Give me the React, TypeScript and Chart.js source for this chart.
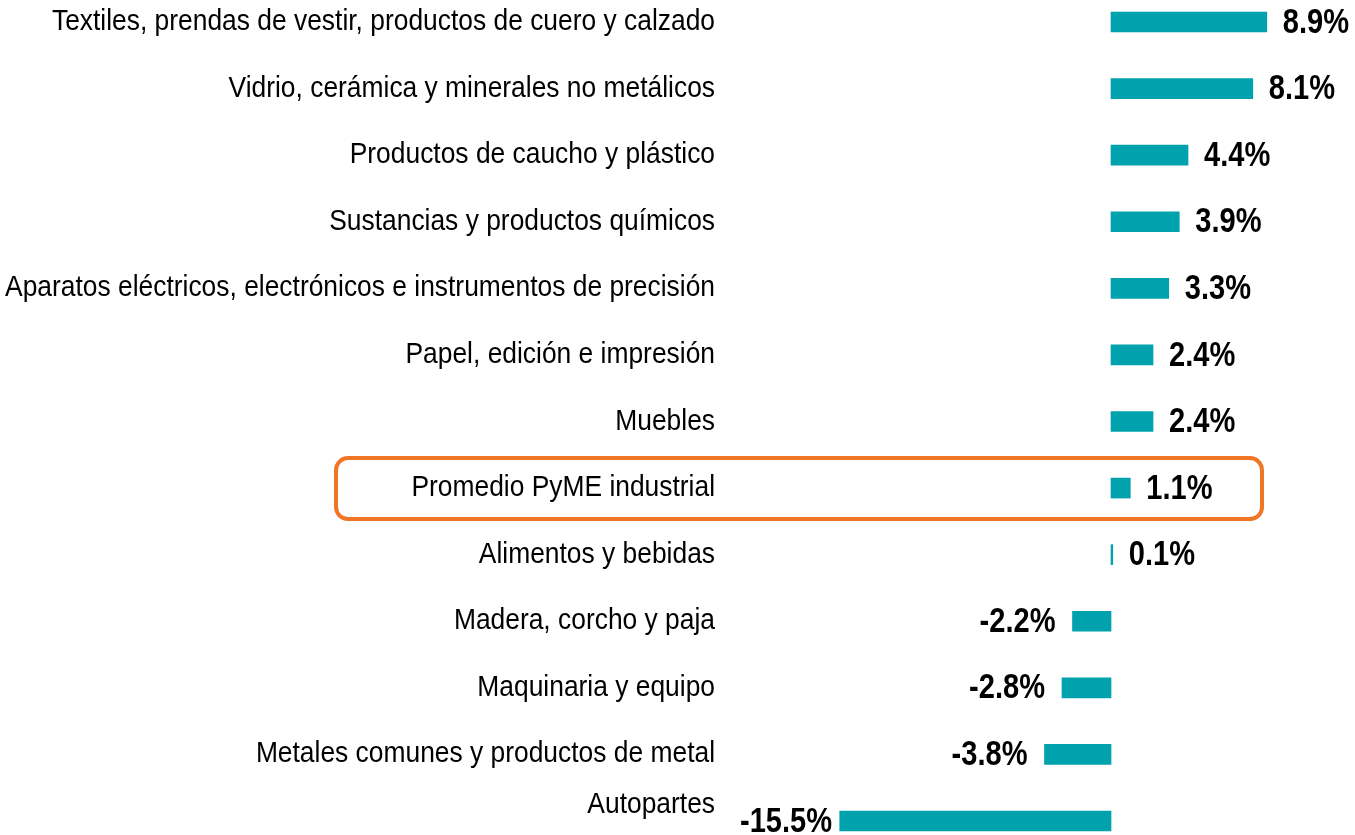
import React, { useEffect, useRef } from "react";
import { Chart, registerables } from "chart.js";

Chart.register(...registerables);

const categories: string[] = [
  "Textiles, prendas de vestir, productos de cuero y calzado",
  "Vidrio, cerámica y minerales no metálicos",
  "Productos de caucho y plástico",
  "Sustancias y productos químicos",
  "Aparatos eléctricos, electrónicos e instrumentos de precisión",
  "Papel, edición e impresión",
  "Muebles",
  "Promedio PyME industrial",
  "Alimentos y bebidas",
  "Madera, corcho y paja",
  "Maquinaria y equipo",
  "Metales comunes y productos de metal",
  "Autopartes",
];

const values: number[] = [8.9, 8.1, 4.4, 3.9, 3.3, 2.4, 2.4, 1.1, 0.1, -2.2, -2.8, -3.8, -15.5];

const highlightIndex = 7;

const FONT = '"Liberation Sans", Arial, sans-serif';
const CAT_SIZE = 29;
const CAT_SX = 0.91;
const VAL_SIZE = 35;
const VAL_SX = 0.83;

const categoryLabelPlugin = {
  id: "categoryLabels",
  afterDraw(chart: any) {
    const ctx = chart.ctx;
    const yScale = chart.scales.y;
    const right = yScale.right - 12;
    const maxY = chart.height - 30;
    ctx.save();
    ctx.font = `${CAT_SIZE}px ${FONT}`;
    ctx.fillStyle = "#000000";
    ctx.textBaseline = "middle";
    ctx.textAlign = "right";
    (chart.data.labels as string[]).forEach((lab, i) => {
      const y = Math.min(yScale.getPixelForValue(i), maxY);
      ctx.save();
      ctx.translate(right, y);
      ctx.scale(CAT_SX, 1);
      ctx.fillText(lab, 0, 0);
      ctx.restore();
    });
    ctx.restore();
  },
};

const valueLabelPlugin = {
  id: "valueLabels",
  afterDatasetsDraw(chart: any) {
    const ctx = chart.ctx;
    const meta = chart.getDatasetMeta(0);
    const minLeft = chart.chartArea.left + 13;
    ctx.save();
    ctx.font = `bold ${VAL_SIZE}px ${FONT}`;
    ctx.fillStyle = "#000000";
    ctx.textBaseline = "middle";
    ctx.textAlign = "left";
    meta.data.forEach((bar: any, i: number) => {
      const v = values[i];
      const txt = v.toFixed(1) + "%";
      const w = ctx.measureText(txt).width * VAL_SX;
      let left: number;
      if (v >= 0) {
        left = bar.x + 16;
      } else {
        left = Math.max(bar.x - 17 - w, minLeft);
      }
      ctx.save();
      ctx.translate(left, bar.y + 1);
      ctx.scale(VAL_SX, 1);
      ctx.fillText(txt, 0, 0);
      ctx.restore();
    });
    ctx.restore();
  },
};

const boxPlugin = {
  id: "highlightBox",
  afterDraw(chart: any) {
    const ctx = chart.ctx;
    const y = chart.scales.y.getPixelForValue(highlightIndex);
    const x0 = 336;
    const x1 = 1262;
    const top = y - 30;
    const h = 61;
    ctx.save();
    ctx.strokeStyle = "#F07525";
    ctx.lineWidth = 4;
    ctx.beginPath();
    ctx.roundRect(x0, top, x1 - x0, h, 12);
    ctx.stroke();
    ctx.restore();
  },
};

export default function App() {
  const ref = useRef<HTMLCanvasElement | null>(null);
  useEffect(() => {
    document.body.style.margin = "0";
    document.body.style.overflow = "hidden";
    if (!ref.current) return;
    const chart = new Chart(ref.current, {
      type: "bar",
      data: {
        labels: categories,
        datasets: [
          {
            data: values,
            backgroundColor: "#00A3AD",
            borderWidth: 0,
            barThickness: 20,
            clip: false as any,
          },
        ],
      },
      options: {
        indexAxis: "y",
        animation: false,
        responsive: false,
        maintainAspectRatio: false,
        layout: { padding: { top: 22, bottom: 14, left: 0, right: 0 } },
        plugins: { legend: { display: false }, tooltip: { enabled: false } },
        scales: {
          x: {
            display: false,
            min: -21.94,
            max: 13.94,
          },
          y: {
            offset: false,
            grid: { display: false, drawTicks: false },
            border: { display: false },
            ticks: { display: false },
            afterFit(scale: any) {
              scale.width = 727;
              scale.paddingTop = 0;
              scale.paddingBottom = 0;
            },
          },
        },
      },
      plugins: [valueLabelPlugin, categoryLabelPlugin, boxPlugin],
    });
    return () => chart.destroy();
  }, []);
  return (
    <div style={{ width: 1355, height: 835 }}>
      <canvas ref={ref} width={1355} height={835} style={{ display: "block" }} />
    </div>
  );
}
